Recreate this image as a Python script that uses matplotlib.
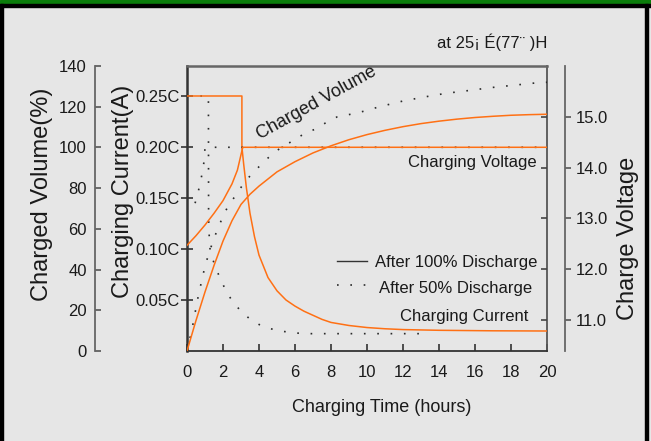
import matplotlib
matplotlib.use('Agg')
import matplotlib.pyplot as plt
from matplotlib.lines import Line2D
from matplotlib.patches import Rectangle

plt.rcParams['font.family'] = ['Liberation Sans', 'DejaVu Sans']

# data
# charging current (fraction of C), after 100% discharge
cur100_t = [0, 3.05, 3.05, 3.15, 3.3, 3.5, 3.75, 4.0, 4.5, 5.0, 5.5, 6.0, 6.5, 7.0, 7.5,
            8.0, 9.0, 10.0, 11.0, 12.0, 14.0, 17.0, 20.0]
cur100_c = [0.25, 0.25, 0.20, 0.183, 0.160, 0.135, 0.112, 0.094, 0.072, 0.059, 0.050, 0.044,
            0.039, 0.035, 0.031, 0.028, 0.025, 0.023, 0.0218, 0.021, 0.0203, 0.0198, 0.0196]
# charging current after 50% discharge
cur50_t = [0, 1.19, 1.2, 1.25, 1.3, 1.6, 1.88, 2.16, 2.55, 2.95, 3.45, 4.0, 4.6, 5.2, 5.83, 6.5, 13]
cur50_c = [0.25, 0.25, 0.13, 0.105, 0.097, 0.081, 0.070, 0.059, 0.048, 0.040, 0.032, 0.026,
           0.022, 0.0196, 0.018, 0.017, 0.017]

# charged volume (%)
vol100_t = [0, 0.5, 1, 1.5, 2, 2.5, 3, 3.5, 4, 5, 6, 7, 8, 9, 10, 11, 12, 13, 14, 15, 16,
            17, 18, 19, 20]
vol100_v = [0, 15, 29, 42, 54, 64, 72, 77, 81, 88, 93, 97.3, 100.8, 103.8, 106.3, 108.4,
            110.2, 111.7, 112.9, 113.9, 114.7, 115.3, 115.8, 116.1, 116.3]
vol50_t = [0, 0.18, 0.32, 0.45, 0.58, 0.72, 0.87, 1.04, 1.47, 1.71, 1.99, 2.3, 2.67, 3.05,
           3.5, 3.94, 4.4, 4.9, 5.46, 6.0, 6.57, 7.13, 7.69, 8.34, 9.5, 10.7, 12.0, 13.2,
           14.4, 15.7, 16.9, 18.1, 19.5, 20]
vol50_v = [0, 7, 12.7, 18.8, 25, 30.7, 36.7, 43, 54.7, 60, 66, 71.5, 76, 81, 86, 90, 94, 98,
           101, 104, 107, 109, 112, 115, 117, 120, 122.8, 124.8, 126.6, 128, 129.4, 130.5,
           131.8, 132]

# charge voltage (V)
volt100_t = [0, 0.5, 1, 1.5, 2, 2.5, 2.8, 3.05, 3.1, 20]
volt100_v = [12.47, 12.66, 12.87, 13.1, 13.35, 13.68, 13.95, 14.33, 14.4, 14.4]
volt50_t = [0.45, 0.69, 0.85, 0.96, 1.0, 20]
volt50_v = [13.3, 13.62, 13.9, 14.15, 14.4, 14.4]

x_ticks = list(range(0, 21, 2))
cur_ticks = [0.05, 0.10, 0.15, 0.20, 0.25]
cur_labels = ['0.05C', '0.10C', '0.15C', '0.20C', '0.25C']
vol_ticks = list(range(0, 141, 20))
volt_ticks = [11.0, 12.0, 13.0, 14.0, 15.0]

W, H = 651, 441
ORANGE = '#ff7014'
DOT = '#2a2a2a'
BG = '#e6e6e6'


def fx(px):
    return px / W


def fy(py):
    return 1 - py / H


fig = plt.figure(figsize=(W / 100, H / 100), dpi=100, facecolor=BG)

# frame: green band on top, black border lines
fig.add_artist(Rectangle((0, fy(4)), 1, 4 / H, transform=fig.transFigure, color='#0b7d0b'))
fig.add_artist(Rectangle((0, fy(7)), 1, 3 / H, transform=fig.transFigure, color='black'))
fig.add_artist(Rectangle((0, 0), 3 / W, fy(4), transform=fig.transFigure, color='black'))
fig.add_artist(Rectangle((fx(645), 0), 3 / W, fy(4), transform=fig.transFigure, color='black'))

ax = fig.add_axes([fx(187), fy(351), fx(547) - fx(187), fy(66) - fy(351)])
ax.set_facecolor(BG)
ax.set_xlim(0, 20)
ax.set_ylim(0, 0.2794)

# curves
ax.plot(cur100_t, cur100_c, color=ORANGE, lw=1.1, zorder=3)
ax.plot(cur50_t, cur50_c, color=DOT, lw=1.2, ls=(0, (1, 7)), zorder=2)

ax_vol = ax.twinx()
ax_vol.set_ylim(0, 140)
ax_vol.plot(vol100_t, vol100_v, color=ORANGE, lw=1.1, zorder=3)
ax_vol.plot(vol50_t, vol50_v, color=DOT, lw=1.2, ls=(0, (1, 7)), zorder=2)

ax_volt = ax.twinx()
ax_volt.set_ylim(10.39, 16.0)
ax_volt.plot(volt50_t, volt50_v, color=DOT, lw=1.2, ls=(0, (1, 7)), zorder=2)
ax_volt.plot(volt100_t, volt100_v, color=ORANGE, lw=1.1, zorder=3)

# inner ticks on the main box right side
ax_in = ax.twinx()
ax_in.set_ylim(10.39, 16.0)
ax_in.set_yticks(volt_ticks)
ax_in.set_yticklabels([])
ax_in.tick_params(axis='y', direction='in', length=4, width=1.2, color='#444')
for s in ax_in.spines.values():
    s.set_visible(False)

# main axes styling
ax.set_xticks(x_ticks)
ax.set_xticklabels([str(t) for t in x_ticks])
ax.set_yticks(cur_ticks)
ax.set_yticklabels(cur_labels)
ax.tick_params(axis='x', direction='in', length=5, width=1.2, pad=10, labelsize=12,
               color='#333', labelcolor='#1a1a1a')
ax.tick_params(axis='y', direction='inout', length=8, width=1.2, pad=1, labelsize=12,
               color='#333', labelcolor='#1a1a1a')
ax.spines['left'].set_color('#333')
ax.spines['left'].set_linewidth(1.8)
ax.spines['bottom'].set_color('#333')
ax.spines['bottom'].set_linewidth(1.3)
ax.spines['top'].set_color('#666')
ax.spines['top'].set_linewidth(1.8)
ax.spines['right'].set_color('#555')
ax.spines['right'].set_linewidth(1.3)

# volume axis on the far left
for name, s in ax_vol.spines.items():
    s.set_visible(name == 'left')
ax_vol.spines['left'].set_position(('outward', 92 * 0.72))
ax_vol.spines['left'].set_color('#666')
ax_vol.spines['left'].set_linewidth(1.3)
ax_vol.yaxis.tick_left()
ax_vol.set_yticks(vol_ticks)
ax_vol.tick_params(axis='y', direction='in', length=4, width=1.2, pad=6, labelsize=12,
                   color='#555', labelcolor='#1a1a1a')

# voltage axis on the far right
for name, s in ax_volt.spines.items():
    s.set_visible(name == 'right')
ax_volt.spines['right'].set_position(('outward', 18 * 0.72))
ax_volt.spines['right'].set_color('#666')
ax_volt.spines['right'].set_linewidth(1.3)
ax_volt.set_yticks(volt_ticks)
ax_volt.set_yticklabels([f'{v:.1f}' for v in volt_ticks])
ax_volt.tick_params(axis='y', direction='out', length=4, width=1.2, pad=4, labelsize=12,
                    color='#555', labelcolor='#1a1a1a')

# axis titles
fig.text(fx(42), fy(194), 'Charged Volume(%)', rotation=90, ha='center', va='center',
         fontsize=17, color='#1a1a1a')
fig.text(fx(123), fy(191), 'Charging Current(A)', rotation=90, ha='center', va='center',
         fontsize=17, color='#1a1a1a')
fig.text(fx(628), fy(238), 'Charge Voltage', rotation=90, ha='center', va='center',
         fontsize=17, color='#1a1a1a')
fig.text(fx(382), fy(408), 'Charging Time (hours)', ha='center', va='center',
         fontsize=13, color='#1a1a1a')
fig.text(fx(492), fy(42), 'at 25¡ É(77¨ )H', ha='center', va='center',
         fontsize=12, color='#1a1a1a')

# in-plot labels
fig.text(fx(317), fy(103), 'Charged Volume', rotation=29, rotation_mode='anchor',
         ha='center', va='center', fontsize=13, color='#1a1a1a')
fig.text(fx(537), fy(163), 'Charging Voltage', ha='right', va='center',
         fontsize=12, color='#1a1a1a')
fig.text(fx(537), fy(263), 'After 100% Discharge', ha='right', va='center',
         fontsize=12, color='#1a1a1a')
fig.text(fx(532), fy(288), 'After 50% Discharge', ha='right', va='center',
         fontsize=12, color='#1a1a1a')
fig.text(fx(528), fy(317), 'Charging Current', ha='right', va='center',
         fontsize=12, color='#1a1a1a')

# legend sample lines
fig.add_artist(Line2D([fx(337), fx(367)], [fy(260.7), fy(260.7)], color='#333', lw=1.0))
fig.add_artist(Line2D([fx(337), fx(369)], [fy(285), fy(285)], color=DOT, lw=1.2,
                      ls=(0, (1, 7))))

fig.savefig('out.png', dpi=100, facecolor=BG)
